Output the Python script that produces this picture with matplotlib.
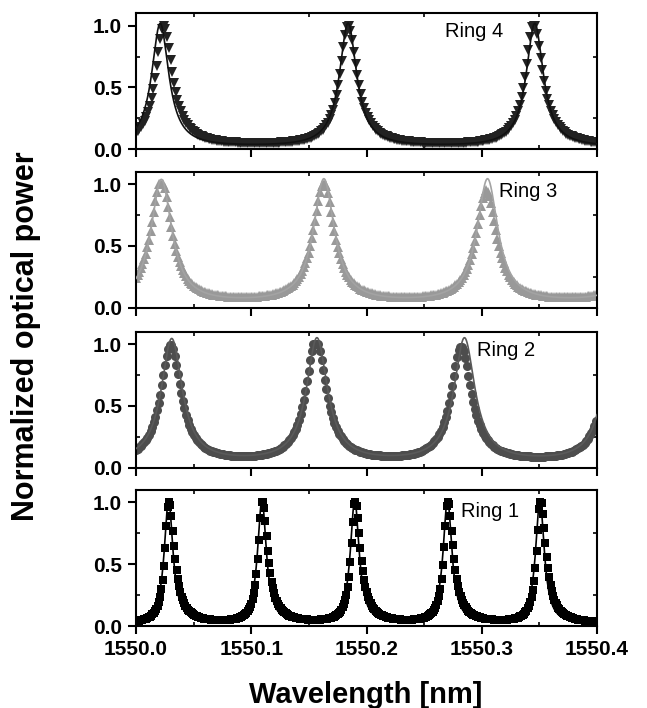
import numpy as np
import matplotlib.pyplot as plt
from matplotlib.ticker import MultipleLocator

plt.rcParams['font.family'] = ['Liberation Sans', 'DejaVu Sans']

# Resonance parameters (wavelength in nm)
ring_names = ['Ring 4', 'Ring 3', 'Ring 2', 'Ring 1']

# fitted curves: peak centres, FWHM, background
fit_centers = [
    [1550.021, 1550.184, 1550.346],
    [1550.022, 1550.163, 1550.305, 1550.446],
    [1550.031, 1550.157, 1550.285, 1550.414],
    [1550.0283, 1550.1093, 1550.1898, 1550.2703, 1550.3505],
]
fit_fwhm = [0.018, 0.022, 0.022, 0.0092]
fit_base = [0.015, 0.03, 0.035, 0.012]

# measured points: centres, heights, left/right half widths
meas_centers = [
    [1550.024, 1550.184, 1550.345],
    [1550.022, 1550.163, 1550.304, 1550.446],
    [1550.030, 1550.156, 1550.282, 1550.414],
    [1550.0285, 1550.1095, 1550.190, 1550.2705, 1550.351],
]
meas_heights = [
    [0.97, 0.97, 0.99],
    [1.0, 0.97, 0.9, 1.0],
    [0.95, 0.99, 0.93, 1.0],
    [1.0, 1.0, 1.0, 1.0, 1.0],
]
meas_hw_left = [0.0085, 0.011, 0.0105, 0.0040]
meas_hw_right = [0.0095, 0.011, 0.0110, 0.0058]
meas_base = [0.025, 0.035, 0.035, 0.018]
meas_step = [0.0015, 0.0014, 0.0014, 0.0011]

marker_styles = ['v', '^', 'o', 's']
marker_sizes = [7.5, 7.5, 6.5, 5.2]
marker_colors = ['#222222', '#999999', '#4d4d4d', '#000000']
line_colors = ['#111111', '#a3a3a3', '#5a5a5a', '#000000']

label_x = [1550.268, 1550.315, 1550.296, 1550.282]
label_y = [0.955, 0.937, 0.95, 0.93]


def fit_curve(x, centers, fwhm, base):
    y = np.full_like(x, base)
    for c in centers:
        y += 1.0 / (1 + ((x - c) / (fwhm / 2)) ** 2)
    return y


def meas_curve(x, centers, heights, hwl, hwr, base):
    y = np.full_like(x, base)
    for c, h in zip(centers, heights):
        hw = np.where(x < c, hwl, hwr)
        y += h / (1 + ((x - c) / hw) ** 2)
    return y


fig = plt.figure(figsize=(6.47, 7.08), dpi=100)

bottoms_px = [149.3, 307.7, 467.7, 626.0]
height_px = 136.0
left = 136 / 647
width = (597 - 136) / 647

x_line = np.linspace(1550.0, 1550.4, 2000)

for i in range(4):
    b = 1 - bottoms_px[i] / 708
    ax = fig.add_axes([left, b, width, height_px / 708])

    x_pts = np.arange(1550.0, 1550.4001, meas_step[i])
    y_pts = meas_curve(x_pts, meas_centers[i], meas_heights[i],
                       meas_hw_left[i], meas_hw_right[i], meas_base[i])
    y_pts = np.minimum(y_pts, 1.0)
    ax.plot(x_pts, y_pts, linestyle='none', marker=marker_styles[i],
            markersize=marker_sizes[i], color=marker_colors[i],
            markeredgewidth=0, zorder=2)

    y_fit = fit_curve(x_line, fit_centers[i], fit_fwhm[i], fit_base[i])
    ax.plot(x_line, y_fit, color=line_colors[i], linewidth=1.2, zorder=3)

    ax.text(label_x[i], label_y[i], ring_names[i], fontsize=14.5,
            ha='left', va='center')

    ax.set_xlim(1550.0, 1550.4)
    ax.set_ylim(0, 1.1)
    ax.xaxis.set_major_locator(MultipleLocator(0.1))
    ax.xaxis.set_minor_locator(MultipleLocator(0.05))
    ax.yaxis.set_major_locator(MultipleLocator(0.5))
    ax.yaxis.set_minor_locator(MultipleLocator(0.25))
    ax.tick_params(which='major', bottom=True, left=True, top=False, right=False,
                   direction='out', length=6, width=1.5, labelsize=15, pad=4)
    ax.tick_params(which='minor', bottom=True, left=True, top=True, right=True,
                   direction='in', length=3, width=1.2)
    ax.yaxis.set_major_formatter(plt.FormatStrFormatter('%.1f'))
    ax.xaxis.set_major_formatter(plt.FormatStrFormatter('%.1f'))
    if i < 3:
        ax.tick_params(labelbottom=False)
    for s in ax.spines.values():
        s.set_linewidth(1.5)
    for lab in ax.get_xticklabels() + ax.get_yticklabels():
        lab.set_fontweight('bold')

fig.text(26 / 647, 1 - 336 / 708, 'Normalized optical power', rotation=90,
         fontsize=22, fontweight='bold', ha='center', va='center')
fig.text(366 / 647, 1 - 703 / 708, 'Wavelength [nm]', fontsize=21,
         fontweight='bold', ha='center', va='baseline')

fig.savefig('out.png', dpi=100)
